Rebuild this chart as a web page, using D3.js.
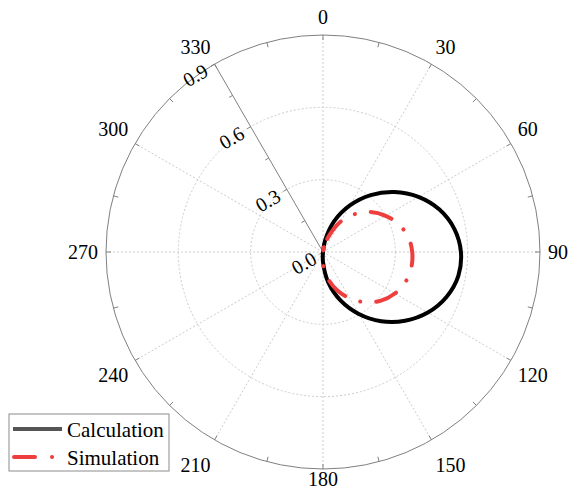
<!DOCTYPE html>
<html>
<head>
<meta charset="utf-8">
<script src="https://cdn.jsdelivr.net/npm/d3@7"></script>
<style>
  body { margin: 0; background: #fff; }
  text { font-family: "Liberation Serif", "Times New Roman", serif; fill: #000; }
</style>
</head>
<body>
<div id="chart"></div>
<script>
// angles in degrees, clockwise from the top (0 = north)
const angles = [0, 10, 20, 30, 40, 50, 60, 70, 80, 90, 100, 110, 120, 130, 140, 150, 160, 170, 180, 190];
const calculation = [0.0, 0.047, 0.136, 0.223, 0.308, 0.387, 0.457, 0.514, 0.553, 0.572,
                     0.570, 0.545, 0.502, 0.444, 0.375, 0.297, 0.215, 0.129, 0.041, 0.0];
const simulation = [0.0, 0.02, 0.07, 0.145, 0.205, 0.258, 0.30, 0.335, 0.359, 0.370,
                    0.372, 0.364, 0.344, 0.314, 0.272, 0.222, 0.168, 0.11, 0.055, 0.03];

const thetaTicks = [0, 30, 60, 90, 120, 150, 180, 210, 240, 270, 300, 330];
const rTicks = [0.0, 0.3, 0.6, 0.9];
const seriesNames = ["Calculation", "Simulation"];

const width = 569, height = 497;
const cx = 323, cy = 252, R = 217;
const rad = d => d * Math.PI / 180;

const svg = d3.select("#chart").append("svg")
    .attr("width", width)
    .attr("height", height);

svg.append("rect").attr("width", width).attr("height", height).attr("fill", "#fff");

const r = d3.scaleLinear().domain([0, 0.9]).range([0, R]);

const g = svg.append("g").attr("transform", `translate(${cx},${cy})`);

// grid circles
g.selectAll(".grid-circle")
    .data(rTicks.filter(d => d > 0 && d < 0.9))
    .enter().append("circle")
    .attr("r", d => r(d))
    .attr("fill", "none")
    .attr("stroke", "#cccccc")
    .attr("stroke-dasharray", "2,2");

// spokes
g.selectAll(".spoke")
    .data(thetaTicks.filter(a => a !== 330))
    .enter().append("line")
    .attr("x1", 0).attr("y1", 0)
    .attr("x2", a => R * Math.sin(rad(a)))
    .attr("y2", a => -R * Math.cos(rad(a)))
    .attr("stroke", "#cccccc")
    .attr("stroke-dasharray", "2,2");

// outer circle
g.append("circle")
    .attr("r", R)
    .attr("fill", "none")
    .attr("stroke", "#808080")
    .attr("stroke-width", 1);

// theta ticks every 15 degrees, pointing inwards
g.selectAll(".ttick")
    .data(d3.range(0, 360, 15))
    .enter().append("line")
    .attr("x1", a => R * Math.sin(rad(a)))
    .attr("y1", a => -R * Math.cos(rad(a)))
    .attr("x2", a => (R - 5) * Math.sin(rad(a)))
    .attr("y2", a => -(R - 5) * Math.cos(rad(a)))
    .attr("stroke", "#808080");

// theta labels
const labelNudge = { 150: 8, 180: -8.5, 210: 8 };
g.selectAll(".tlabel")
    .data(thetaTicks)
    .enter().append("text")
    .attr("font-size", 20)
    .attr("dominant-baseline", "central")
    .attr("text-anchor", a => {
        const s = Math.sin(rad(a));
        return Math.abs(s) < 0.01 ? "middle" : (s > 0 ? "start" : "end");
    })
    .attr("x", a => (R + 8) * Math.sin(rad(a)))
    .attr("y", a => {
        const c = Math.cos(rad(a));
        const sgn = Math.abs(c) < 0.01 ? 0 : Math.sign(c);
        return -(R + 8) * c - sgn * 10.5 + (labelNudge[a] || 0);
    })
    .text(a => a);

// radial axis along 330 degrees
const axAngle = rad(330);
const ux = Math.sin(axAngle), uy = -Math.cos(axAngle);
const nx = -Math.cos(rad(30)), ny = Math.sin(rad(30));

g.append("line")
    .attr("x1", 0).attr("y1", 0)
    .attr("x2", R * ux).attr("y2", R * uy)
    .attr("stroke", "#808080");

g.selectAll(".rtick")
    .data(d3.range(0, 0.91, 0.15))
    .enter().append("line")
    .attr("x1", d => r(d) * ux)
    .attr("y1", d => r(d) * uy)
    .attr("x2", d => r(d) * ux + 4 * nx)
    .attr("y2", d => r(d) * uy + 4 * ny)
    .attr("stroke", "#808080");

g.selectAll(".rlabel")
    .data(rTicks)
    .enter().append("text")
    .attr("font-size", 20)
    .attr("text-anchor", "middle")
    .attr("dominant-baseline", "central")
    .attr("transform", d => `translate(${r(d) * ux + 22 * nx},${r(d) * uy + 22 * ny}) rotate(-30)`)
    .text(d => d.toFixed(1));

// series
const line = d3.lineRadial()
    .angle(d => rad(d[0]))
    .radius(d => r(d[1]))
    .curve(d3.curveCatmullRomClosed.alpha(0.5));

g.append("path")
    .datum(d3.zip(angles, calculation))
    .attr("d", line)
    .attr("fill", "none")
    .attr("stroke", "#000")
    .attr("stroke-width", 4);

g.append("path")
    .datum(d3.zip(angles, simulation))
    .attr("d", line)
    .attr("fill", "none")
    .attr("stroke", "#ef3e3e")
    .attr("stroke-width", 4)
    .attr("stroke-linecap", "round")
    .attr("stroke-dasharray", "22 16 0.1 16")
    .attr("stroke-dashoffset", 45);

// legend
const legend = svg.append("g").attr("transform", "translate(9,414)");
legend.append("rect")
    .attr("width", 160).attr("height", 57)
    .attr("fill", "#fff")
    .attr("stroke", "#8c8c8c");

legend.append("line")
    .attr("x1", 4).attr("x2", 53)
    .attr("y1", 15).attr("y2", 15)
    .attr("stroke", "#555")
    .attr("stroke-width", 4);

legend.append("line")
    .attr("x1", 5).attr("x2", 53)
    .attr("y1", 43).attr("y2", 43)
    .attr("stroke", "#ef3e3e")
    .attr("stroke-width", 4)
    .attr("stroke-linecap", "round")
    .attr("stroke-dasharray", "21 17 0.1 20");

legend.selectAll(".ltext")
    .data(seriesNames)
    .enter().append("text")
    .attr("x", 58)
    .attr("y", (d, i) => 23 + i * 28)
    .attr("font-size", 21)
    .text(d => d);
</script>
</body>
</html>
